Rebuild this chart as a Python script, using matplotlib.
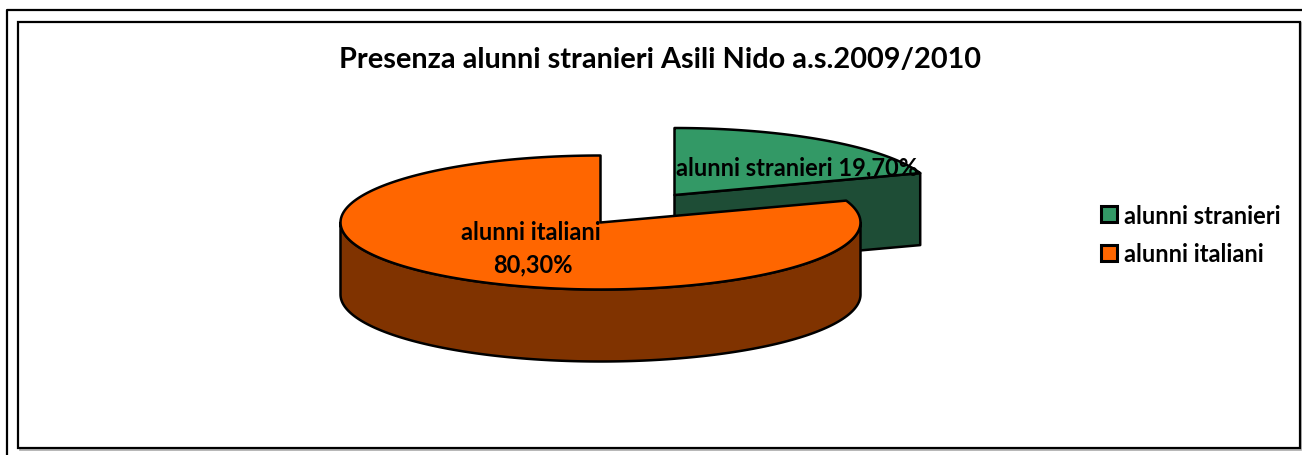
import numpy as np
import matplotlib
matplotlib.use('Agg')
import matplotlib.pyplot as plt
from matplotlib.patches import Polygon, Rectangle

title = "Presenza alunni stranieri Asili Nido a.s.2009/2010"
categories = ["alunni stranieri", "alunni italiani"]
values = [19.70, 80.30]
value_labels = ["19,70%", "80,30%"]
top_colors = ["#339966", "#FF6600"]
side_colors = ["#1E4D36", "#803300"]

plt.rcParams['font.family'] = ['Lato', 'DejaVu Sans']
plt.rcParams['font.weight'] = 'bold'

fig = plt.figure(figsize=(13.02, 4.55), dpi=100)
ax = fig.add_axes([0, 0, 1, 1])
ax.set_xlim(0, 1302)
ax.set_ylim(455, 0)
ax.axis('off')

# page frame and chart frame
ax.plot([6.7, 6.7, 1302], [455, 10.3, 10.3], color='black', lw=1.6)
ax.add_patch(Rectangle((19.5, 22.5), 1281, 427, fc='none', ec='#aaaaaa', lw=1.2))
ax.add_patch(Rectangle((18.3, 21.8), 1281.5, 426.5, fc='white', ec='black', lw=1.6))

rx, ry, depth = 260, 67, 72
lw = 1.8


def arc(cx, cy, a0, a1, n=200):
    t = np.radians(np.linspace(a0, a1, n))
    return np.column_stack([cx + rx * np.cos(t), cy - ry * np.sin(t)])


# slices go clockwise from 12 o'clock, the first one is pulled out
split = 90 - values[0] / sum(values) * 360

# green slice, pulled out to the upper right
gx, gy = 674.5, 195
edge = arc(gx, gy, split, split)[0]
ax.add_patch(Polygon([(gx, gy), edge, edge + (0, depth), (gx, gy + depth)],
                     fc=side_colors[0], ec='black', lw=lw, joinstyle='round'))
ax.add_patch(Polygon(np.vstack([[(gx, gy)], arc(gx, gy, split, 90)]),
                     fc=top_colors[0], ec='black', lw=lw, joinstyle='round'))

# orange slice
ox, oy = 600.5, 222.5
rim = arc(ox, oy, 180, 360)
ax.add_patch(Polygon(np.vstack([rim, rim[::-1] + (0, depth)]),
                     fc=side_colors[1], ec='black', lw=lw, joinstyle='round'))
ax.add_patch(Polygon(np.vstack([[(ox, oy)], arc(ox, oy, 90, split + 360)]),
                     fc=top_colors[1], ec='black', lw=lw, joinstyle='round'))

# texts
ax.text(660, 60.5, title, fontsize=20.8, ha='center', va='center')
ax.text(796.5, 168, categories[0] + " " + value_labels[0], fontsize=17,
        ha='center', va='center')
ax.text(530.5, 232.5, categories[1], fontsize=17, ha='center', va='center')
ax.text(533, 265, value_labels[1], fontsize=17, ha='center', va='center')

# legend
for i, (name, col) in enumerate(zip(categories, top_colors)):
    y = 205.5 + i * 39
    ax.add_patch(Rectangle((1100.5, y), 16, 16, fc=col, ec='black', lw=2.2))
    ax.text(1124, y + 10.5, name, fontsize=17, ha='left', va='center')

fig.savefig('out.png', dpi=100)
